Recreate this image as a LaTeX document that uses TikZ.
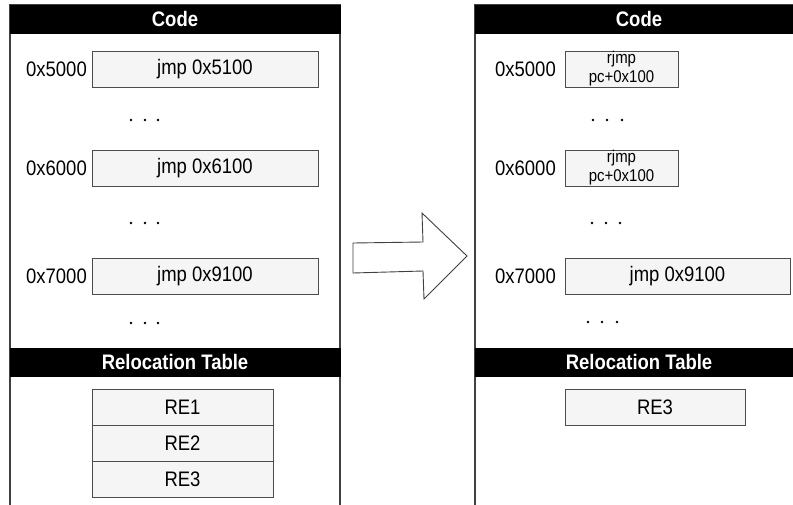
\documentclass[tikz,border=0pt]{standalone}
\usepackage{fontspec}
\setmainfont{Liberation Sans}[FakeStretch=0.88]
\begin{document}
\begin{tikzpicture}[x=1pt,y=-1pt,
  panel/.style={draw=black!75,line width=1.1pt},
  hdr/.style={fill=black,draw=black},
  hdrtext/.style={text=white,font=\fontsize{21}{22}\selectfont\bfseries,inner sep=0pt},
  cell/.style={draw=black!70,line width=0.9pt,fill=gray!8,minimum height=36pt,inner sep=0pt,font=\fontsize{21}{22}\selectfont},
  smallcell/.style={cell,minimum width=113pt,font=\fontsize{17}{19}\selectfont,align=center},
  addr/.style={anchor=east,inner sep=0pt,font=\fontsize{21}{22}\selectfont},
  dot/.style={circle,fill=black,inner sep=0pt,minimum size=2.6pt}
]
\useasboundingbox (0,0) rectangle (793,504);
\clip (0,0) rectangle (793,504);
\fill[white] (0,0) rectangle (793,504);
% left panel
\draw[panel] (10,5) rectangle (340,515);
\fill[hdr] (10,5) rectangle (340,33);
\node[hdrtext] (lcode) at (175,19) {Code};
\node[cell,minimum width=226pt] (l1) at (205,69) {jmp 0x5100};
\node[cell,minimum width=226pt] (l2) at (205,168) {jmp 0x6100};
\node[cell,minimum width=226pt] (l3) at (205,276) {jmp 0x9100};
\node[addr] (la1) at (87,69) {0x5000};
\node[addr] (la2) at (87,168) {0x6000};
\node[addr] (la3) at (87,276) {0x7000};
\foreach \y/\n in {120/a,223/b,323/c}{
  \node[dot] (ld\n1) at (131,\y) {};
  \node[dot] (ld\n2) at (145,\y) {};
  \node[dot] (ld\n3) at (158,\y) {};
}
\fill[hdr] (10,348) rectangle (340,376);
\node[hdrtext] (lrel) at (175,362) {Relocation Table};
\node[cell,minimum width=181pt] (re1) at (182.5,407) {RE1};
\node[cell,minimum width=181pt] (re2) at (182.5,443) {RE2};
\node[cell,minimum width=181pt] (re3) at (182.5,479) {RE3};
% arrow
\draw[draw=black!75,line width=0.9pt,fill=white] (353,243) -- (423,242) -- (422,213) -- (467,256) -- (424,299) -- (423,271) -- (353,273) -- cycle;
% right panel
\draw[panel] (475,5) rectangle (805,515);
\fill[hdr] (475,5) rectangle (805,33);
\node[hdrtext] (rcode) at (639,19) {Code};
\node[smallcell] (r1) at (621.5,69) {rjmp\\pc+0x100};
\node[smallcell] (r2) at (621.5,168) {rjmp\\pc+0x100};
\node[cell,minimum width=225pt] (r3) at (677.5,276) {jmp 0x9100};
\node[addr] (ra1) at (556,69) {0x5000};
\node[addr] (ra2) at (556,168) {0x6000};
\node[addr] (ra3) at (556,276) {0x7000};
\node[dot] (rda1) at (593,120) {};
\node[dot] (rda2) at (607,120) {};
\node[dot] (rda3) at (622,120) {};
\node[dot] (rdb1) at (592,223) {};
\node[dot] (rdb2) at (606,223) {};
\node[dot] (rdb3) at (620,223) {};
\node[dot] (rdc1) at (588,322) {};
\node[dot] (rdc2) at (602,322) {};
\node[dot] (rdc3) at (617,322) {};
\fill[hdr] (475,348) rectangle (805,376);
\node[hdrtext] (rrel) at (639,362) {Relocation Table};
\node[cell,minimum width=180pt] (rre3) at (655,407) {RE3};
\end{tikzpicture}
\end{document}
